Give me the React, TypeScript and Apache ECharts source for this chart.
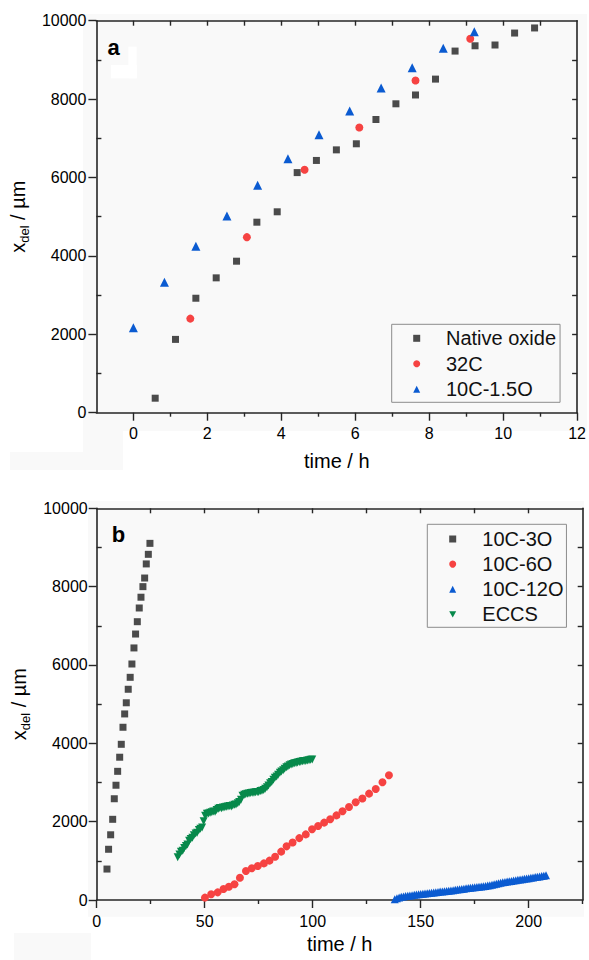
import React, { useEffect, useRef } from 'react';
import * as echarts from 'echarts';

const FONT = 'Arial, "Liberation Sans", sans-serif';

// ---------- Panel a ----------
const aNativeOxideT = [0.59, 1.14, 1.69, 2.24, 2.79, 3.34, 3.89, 4.43, 4.95, 5.49, 6.03, 6.56, 7.1, 7.63, 8.17, 8.7, 9.24, 9.78, 10.31, 10.85];
const aNativeOxideX = [370, 1870, 2920, 3440, 3865, 4860, 5125, 6125, 6435, 6705, 6860, 7480, 7880, 8105, 8510, 9225, 9360, 9380, 9685, 9815];
const a32CT = [1.54, 3.07, 4.63, 6.11, 7.63, 9.11];
const a32CX = [2400, 4478, 6196, 7277, 8476, 9541];
const a10C15OT = [0, 0.84, 1.69, 2.53, 3.36, 4.18, 5.02, 5.85, 6.7, 7.54, 8.38, 9.22];
const a10C15OX = [2170, 3330, 4245, 5015, 5800, 6480, 7090, 7695, 8285, 8800, 9295, 9720];

const aXLabels = [0, 2, 4, 6, 8, 10, 12];
const aXMinor = [1, 3, 5, 7, 9, 11];
const aXTop = [0, 1, 2, 3, 4, 5, 6, 7, 8, 9, 10, 11];
const aYLabels = [0, 2000, 4000, 6000, 8000, 10000];
const aYMinor = [1000, 3000, 5000, 7000, 9000];
const aYRight = [1000, 2000, 3000, 4000, 5000, 6000, 7000, 8000, 9000];

// ---------- Panel b ----------
const b3OT = [4.76, 5.5, 6.46, 7.4, 8.14, 8.93, 9.7, 10.64, 11.38, 12.17, 12.95, 13.7, 14.6, 15.5, 16.3, 17.25, 18.0, 18.8, 19.7, 20.5, 21.4, 22.2, 22.95, 23.9, 24.65];
const b3OX = [790, 1295, 1665, 2060, 2585, 2930, 3285, 3645, 3975, 4410, 4750, 5035, 5380, 5685, 6025, 6435, 6790, 7105, 7455, 7730, 8000, 8220, 8580, 8825, 9105];

const b6OT = [50.1, 53.0, 56.0, 58.7, 61.2, 63.8, 66.3, 69.1, 71.8, 74.6, 77.4, 80.0, 82.6, 85.4, 87.9, 90.7, 93.8, 96.8, 99.7, 102.5, 105.3, 108.1, 111.0, 113.8, 116.8, 119.9, 123.0, 126.1, 129.2, 132.3, 135.3];
const b6OX = [60, 145, 195, 280, 340, 400, 570, 740, 810, 870, 935, 1005, 1105, 1235, 1370, 1470, 1580, 1675, 1805, 1890, 1975, 2060, 2160, 2265, 2375, 2495, 2590, 2715, 2835, 3005, 3185];

const b12OT = [138, 139, 140, 141, 142, 143, 144, 145, 146, 147, 148, 149, 150, 151, 152, 153, 154, 155, 156, 157, 158, 159, 160, 161, 162, 163, 164, 165, 166, 167, 168, 169, 170, 171, 172, 173, 174, 175, 176, 177, 178, 179, 180, 181, 182, 183, 184, 185, 186, 187, 188, 189, 190, 191, 192, 193, 194, 195, 196, 197, 198, 199, 200, 201, 202, 203, 204, 205, 206, 207, 208];
const b12OX = [20, 45, 65, 80, 90, 100, 108, 116, 124, 132, 140, 148, 155, 162, 168, 174, 180, 186, 192, 200, 207, 214, 220, 226, 232, 238, 245, 252, 260, 268, 275, 282, 290, 297, 305, 312, 318, 325, 331, 338, 345, 352, 360, 368, 378, 390, 402, 415, 428, 440, 452, 462, 472, 480, 488, 496, 505, 514, 522, 531, 540, 549, 558, 567, 576, 585, 594, 603, 612, 621, 630];

const bECCST = [37.5, 38.3, 39.0, 39.8, 40.5, 41.3, 42.0, 42.8, 43.5, 44.3, 45.0, 45.8, 46.5, 47.3, 48.0, 48.8, 49.5, 50.2, 51.0, 51.8, 52.5, 53.3, 54.0, 54.8, 55.5, 56.3, 57.0, 57.8, 58.5, 59.3, 60.0, 60.8, 61.5, 62.3, 63.0, 63.8, 64.5, 65.3, 66.0, 66.8, 67.5, 68.3, 69.0, 69.8, 70.5, 71.3, 72.0, 72.8, 73.5, 74.3, 75.0, 75.8, 76.5, 77.3, 78.0, 78.8, 79.5, 80.3, 81.0, 81.8, 82.5, 83.3, 84.0, 84.8, 85.5, 86.3, 87.0, 87.8, 88.5, 89.3, 90.0, 90.8, 91.5, 92.3, 93.0, 93.8, 94.5, 95.3, 96.0, 96.8, 97.5, 98.3, 99.0, 99.8];
const bECCSX = [1090, 1160, 1230, 1260, 1330, 1380, 1420, 1510, 1560, 1590, 1650, 1700, 1720, 1790, 1820, 1850, 2010, 2150, 2200, 2210, 2230, 2240, 2260, 2250, 2300, 2330, 2350, 2340, 2360, 2370, 2380, 2390, 2400, 2390, 2410, 2430, 2440, 2470, 2500, 2560, 2660, 2690, 2700, 2710, 2720, 2730, 2740, 2740, 2750, 2760, 2760, 2780, 2790, 2810, 2840, 2880, 2920, 2980, 3010, 3070, 3120, 3150, 3200, 3250, 3280, 3310, 3350, 3390, 3410, 3440, 3460, 3470, 3490, 3500, 3510, 3520, 3530, 3540, 3550, 3550, 3560, 3570, 3580, 3590];

const bXLabels = [0, 50, 100, 150, 200];
const bXMinor = [25, 75, 125, 175, 225];
const bXTop = [25, 50, 75, 100, 125, 150, 175, 200];
const bYLabels = [0, 2000, 4000, 6000, 8000, 10000];
const bYMinor = [1000, 3000, 5000, 7000, 9000];
const bYRight = [1000, 2000, 3000, 4000, 5000, 6000, 7000, 8000, 9000];

const pair = (xs: number[], ys: number[]) => xs.map((x, i) => [x, ys[i]]);

const GRAY = '#4b4b4b';
const RED = '#f64342';
const BLUE = '#0b5bd1';
const GREEN = '#07894b';
const AXIS = '#262626';
const DOWN_TRI = 'path://M0,0 L10,0 L5,9 Z';

const axisLine = { show: true, onZero: false, lineStyle: { color: AXIS, width: 1.6 } };
const tickStyle = { color: AXIS, width: 1.4 };

function xAxesFor(grid: number, min: number, max: number, labels: number[], minor: number[], top: number[], nameGap: number, margin: number) {
  return [
    {
      type: 'value', gridIndex: grid, position: 'bottom', min, max,
      axisLine,
      axisTick: { show: true, length: 8, customValues: labels, lineStyle: tickStyle },
      axisLabel: { customValues: labels, margin, fontSize: 16, color: '#000', fontFamily: FONT, formatter: (v: number) => String(v) },
      splitLine: { show: false },
      name: 'time / h', nameLocation: 'middle', nameGap,
      nameTextStyle: { fontSize: 20, color: '#000', fontFamily: FONT },
    },
    {
      type: 'value', gridIndex: grid, position: 'bottom', min, max,
      axisLine: { show: false, onZero: false },
      axisTick: { show: true, length: 4, customValues: minor, lineStyle: tickStyle },
      axisLabel: { show: false },
      splitLine: { show: false },
    },
    {
      type: 'value', gridIndex: grid, position: 'top', min, max,
      axisLine,
      axisTick: { show: true, inside: true, length: 5, customValues: top, lineStyle: tickStyle },
      axisLabel: { show: false },
      splitLine: { show: false },
    },
  ];
}

function yAxesFor(grid: number, labels: number[], minor: number[], right: number[], margin: number) {
  return [
    {
      type: 'value', gridIndex: grid, position: 'left', min: 0, max: 10000,
      axisLine,
      axisTick: { show: true, length: 8, customValues: labels, lineStyle: tickStyle },
      axisLabel: { customValues: labels, margin, fontSize: 16, color: '#000', fontFamily: FONT, formatter: (v: number) => String(v) },
      splitLine: { show: false },
      name: '{a|x}{b|del}{a| / µm}', nameLocation: 'middle', nameGap: 60, nameRotate: 90,
      nameTextStyle: {
        color: '#000', fontFamily: FONT,
        rich: {
          a: { fontSize: 20, lineHeight: 20, verticalAlign: 'top', fontFamily: FONT, color: '#000' },
          b: { fontSize: 13, lineHeight: 13, padding: [10, 0, 0, 0], verticalAlign: 'top', fontFamily: FONT, color: '#000' },
        },
      },
    },
    {
      type: 'value', gridIndex: grid, position: 'left', min: 0, max: 10000,
      axisLine: { show: false, onZero: false },
      axisTick: { show: true, inside: true, length: 5, customValues: minor, lineStyle: tickStyle },
      axisLabel: { show: false },
      splitLine: { show: false },
    },
    {
      type: 'value', gridIndex: grid, position: 'right', min: 0, max: 10000,
      axisLine,
      axisTick: { show: true, inside: true, length: 5, customValues: right, lineStyle: tickStyle },
      axisLabel: { show: false },
      splitLine: { show: false },
    },
  ];
}

function scatter(name: string, xi: number, yi: number, data: number[][], symbol: string, size: number, color: string) {
  return {
    type: 'scatter', name, xAxisIndex: xi, yAxisIndex: yi, data, symbol, symbolSize: size,
    itemStyle: { color, opacity: 1 }, emphasis: { disabled: true }, z: 3,
  };
}

const legendBase = {
  orient: 'vertical',
  itemWidth: 7,
  itemHeight: 7,
  borderColor: '#8c8c8c',
  borderWidth: 1,
  borderRadius: 0,
  backgroundColor: 'transparent',
  selectedMode: false,
};

const bgFill = '#f9f9f9';

const option: any = {
  animation: false,
  backgroundColor: '#ffffff',
  grid: [
    { left: 92, top: 20.7, width: 486, height: 392, containLabel: false },
    { left: 96.7, top: 508.3, width: 486, height: 391.7, containLabel: false },
  ],
  xAxis: [
    ...xAxesFor(0, -1, 12, aXLabels, aXMinor, aXTop, 38, 12.5),
    ...xAxesFor(1, 0, 225, bXLabels, bXMinor, bXTop, 34, 13),
  ],
  yAxis: [
    ...yAxesFor(0, aYLabels, aYMinor, aYRight, 10),
    ...yAxesFor(1, bYLabels, bYMinor, bYRight, 9),
  ],
  legend: [
    {
      ...legendBase,
      data: ['Native oxide', '32C', '10C-1.5O'],
      left: 391.7, top: 324.3,
      padding: [4, 4, 3, 21.5],
      itemGap: 5.5,
      textStyle: { fontSize: 20, lineHeight: 20, color: '#111', fontFamily: FONT, padding: [0, 0, 0, 20.8] },
    },
    {
      ...legendBase,
      data: ['10C-3O', '10C-6O', '10C-12O', 'ECCS'],
      left: 427.3, top: 524.3,
      padding: [4.7, 3, 3, 21.9],
      itemGap: 5.1,
      textStyle: { fontSize: 20, lineHeight: 20, color: '#111', fontFamily: FONT, padding: [0, 0, 0, 21.1] },
    },
  ],
  graphic: [
    { type: 'rect', z: -10, silent: true, shape: { x: 83, y: 14, width: 504, height: 417 }, style: { fill: bgFill } },
    { type: 'rect', z: -10, silent: true, shape: { x: 83, y: 430, width: 40, height: 40 }, style: { fill: bgFill } },
    { type: 'rect', z: -10, silent: true, shape: { x: 10, y: 452, width: 74, height: 18 }, style: { fill: bgFill } },
    { type: 'rect', z: -10, silent: true, shape: { x: 88, y: 500.7, width: 496, height: 416 }, style: { fill: bgFill } },
    { type: 'rect', z: -10, silent: true, shape: { x: 14, y: 933, width: 77, height: 27 }, style: { fill: bgFill } },
    { type: 'rect', z: -5, silent: true, shape: { x: 128.3, y: 46.7, width: 8.4, height: 31.6 }, style: { fill: '#ffffff' } },
    { type: 'rect', z: -5, silent: true, shape: { x: 111, y: 65, width: 25.7, height: 13.3 }, style: { fill: '#ffffff' } },
    { type: 'text', z: 10, silent: true, style: { text: 'a', x: 113.5, y: 47.9, align: 'center', verticalAlign: 'middle', font: 'bold 22px Arial, "Liberation Sans", sans-serif', fill: '#000' } },
    { type: 'text', z: 10, silent: true, style: { text: 'b', x: 118.5, y: 534.7, align: 'center', verticalAlign: 'middle', font: 'bold 22px Arial, "Liberation Sans", sans-serif', fill: '#000' } },
  ],
  series: [
    scatter('Native oxide', 0, 0, pair(aNativeOxideT, aNativeOxideX), 'rect', 7, GRAY),
    scatter('32C', 0, 0, pair(a32CT, a32CX), 'circle', 8, RED),
    scatter('10C-1.5O', 0, 0, pair(a10C15OT, a10C15OX), 'triangle', 9, BLUE),
    scatter('10C-3O', 3, 3, pair(b3OT, b3OX), 'rect', 7, GRAY),
    scatter('10C-6O', 3, 3, pair(b6OT, b6OX), 'circle', 8, RED),
    scatter('10C-12O', 3, 3, pair(b12OT, b12OX), 'triangle', 8, BLUE),
    scatter('ECCS', 3, 3, pair(bECCST, bECCSX), DOWN_TRI, 8, GREEN),
  ],
};

export default function App() {
  const ref = useRef<HTMLDivElement>(null);
  useEffect(() => {
    if (!ref.current) return;
    const chart = echarts.init(ref.current, null, { renderer: 'svg' });
    chart.setOption(option);
    return () => chart.dispose();
  }, []);
  return (
    <div
      ref={ref}
      style={{ position: 'absolute', left: 0, top: 0, width: 589, height: 960, background: '#fff' }}
    />
  );
}
